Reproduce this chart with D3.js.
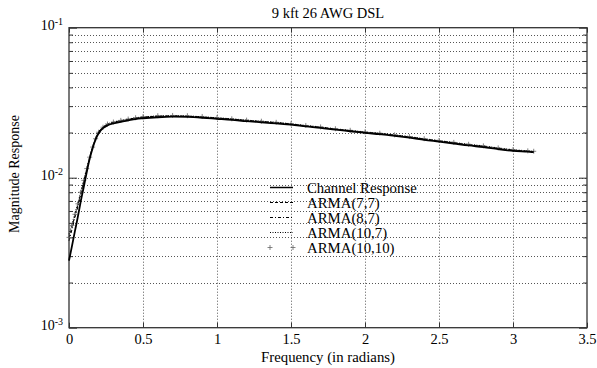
<!DOCTYPE html>
<html>
<head>
<meta charset='utf-8'>
<title>9 kft 26 AWG DSL</title>
<script src='https://cdn.jsdelivr.net/npm/d3@7/dist/d3.min.js'></script>
<style>
  body { margin: 0; background: #fff; }
  text { font-family: 'Liberation Serif', 'Times New Roman', serif; fill: #000; }
</style>
</head>
<body>
<svg width='597' height='368'></svg>
<script>
// frequency samples (radians)
const freq = [0, 0.02, 0.04, 0.06, 0.08, 0.10, 0.12, 0.14, 0.16, 0.18, 0.20, 0.23, 0.26, 0.30, 0.35,
  0.40, 0.45, 0.5, 0.6, 0.7, 0.8, 0.9, 1.0, 1.1, 1.2, 1.3, 1.4, 1.5, 1.6, 1.7, 1.8, 1.9, 2.0,
  2.1, 2.2, 2.3, 2.4, 2.5, 2.6, 2.7, 2.8, 2.9, 3.0, 3.1, 3.14]

const channel = [0.0028, 0.0035, 0.0044, 0.0055, 0.0070, 0.0087, 0.0109, 0.0134, 0.0158, 0.0180, 0.0198, 0.0214, 0.0223, 0.0230, 0.0236,
  0.0241, 0.0246, 0.0249, 0.0253, 0.0255, 0.0254, 0.0251, 0.0247, 0.0243, 0.0238, 0.0234, 0.0230, 0.0226, 0.0220, 0.0215, 0.0209, 0.0204, 0.0199,
  0.0195, 0.0190, 0.0185, 0.0179, 0.0174, 0.0169, 0.0164, 0.0160, 0.0155, 0.0151, 0.0149, 0.0148]

const arma77 = [0.0040, 0.0047, 0.0056, 0.0066, 0.0079, 0.0095, 0.0114, 0.0137, 0.0160, 0.0182, 0.0201, 0.0217, 0.0227, 0.0234, 0.0240,
  0.0245, 0.0250, 0.0253, 0.0257, 0.0258, 0.0257, 0.0254, 0.0250, 0.0246, 0.0241, 0.0237, 0.0233, 0.0228, 0.0222, 0.0217, 0.0211, 0.0206, 0.0201,
  0.0197, 0.0192, 0.0187, 0.0181, 0.0176, 0.0171, 0.0166, 0.0162, 0.0157, 0.0153, 0.0150, 0.0149]

const arma87 = [0.0038, 0.0045, 0.0054, 0.0064, 0.0077, 0.0093, 0.0112, 0.0136, 0.0159, 0.0181, 0.0200, 0.0216, 0.0226, 0.0233, 0.0239,
  0.0244, 0.0249, 0.0252, 0.0256, 0.0257, 0.0256, 0.0253, 0.0249, 0.0245, 0.0240, 0.0236, 0.0232, 0.0227, 0.0221, 0.0216, 0.0210, 0.0205, 0.0200,
  0.0196, 0.0191, 0.0186, 0.0180, 0.0175, 0.0170, 0.0165, 0.0161, 0.0156, 0.0152, 0.0150, 0.0149]

const arma107 = [0.0042, 0.0049, 0.0058, 0.0068, 0.0081, 0.0097, 0.0116, 0.0138, 0.0161, 0.0183, 0.0202, 0.0218, 0.0228, 0.0235, 0.0241,
  0.0246, 0.0251, 0.0254, 0.0258, 0.0259, 0.0258, 0.0255, 0.0251, 0.0247, 0.0242, 0.0238, 0.0234, 0.0229, 0.0223, 0.0218, 0.0212, 0.0207, 0.0202,
  0.0198, 0.0193, 0.0188, 0.0182, 0.0177, 0.0172, 0.0167, 0.0163, 0.0158, 0.0154, 0.0151, 0.0150]

const arma1010 = [0.0040, 0.0048, 0.0057, 0.0067, 0.0080, 0.0096, 0.0115, 0.0137, 0.0160, 0.0182, 0.0201, 0.0217, 0.0228, 0.0235, 0.0241,
  0.0246, 0.0251, 0.0255, 0.0259, 0.0260, 0.0259, 0.0256, 0.0252, 0.0247, 0.0242, 0.0238, 0.0234, 0.0229, 0.0223, 0.0218, 0.0212, 0.0207, 0.0202,
  0.0198, 0.0193, 0.0188, 0.0182, 0.0177, 0.0172, 0.0167, 0.0163, 0.0158, 0.0154, 0.0151, 0.0150]

const seriesNames = ['Channel Response', 'ARMA(7,7)', 'ARMA(8,7)', 'ARMA(10,7)', 'ARMA(10,10)']
const xTicks = [0, 0.5, 1, 1.5, 2, 2.5, 3, 3.5]
const yMajor = [1e-3, 1e-2, 1e-1]
const yExp = ['-3', '-2', '-1']

const svg = d3.select('svg')
const plotBox = { left: 69, right: 587, top: 27.7, bottom: 327.7 }

const x = d3.scaleLinear([0, 3.5], [plotBox.left, plotBox.right])
const y = d3.scaleLog([1e-3, 1e-1], [plotBox.bottom, plotBox.top])

// minor log values for grid / ticks
const yMinor = []
;[1e-3, 1e-2].forEach(d => { for (let k = 2; k <= 9; k++) yMinor.push(d * k) })

// grid (dotted)
const grid = svg.append('g').attr('stroke', '#555').attr('stroke-width', 1).attr('stroke-dasharray', '1,2')
grid.selectAll('.gy').data(yMinor.concat([1e-2])).join('line')
  .attr('x1', plotBox.left).attr('x2', plotBox.right)
  .attr('y1', d => Math.round(y(d)) + 0.5).attr('y2', d => Math.round(y(d)) + 0.5)
grid.selectAll('.gx').data(xTicks.slice(1, -1)).join('line')
  .attr('y1', plotBox.top).attr('y2', plotBox.bottom)
  .attr('x1', d => Math.round(x(d)) + 0.5).attr('x2', d => Math.round(x(d)) + 0.5)

// axes: inward ticks like gnuplot
const gx = svg.append('g').attr('transform', `translate(0,${plotBox.bottom})`)
  .call(d3.axisBottom(x).tickValues(xTicks).tickSize(-5).tickPadding(6).tickFormat(d3.format('')))
const gxTop = svg.append('g').attr('transform', `translate(0,${plotBox.top})`)
  .call(d3.axisTop(x).tickValues(xTicks).tickSize(-5).tickFormat(''))
const gy = svg.append('g').attr('transform', `translate(${plotBox.left},0)`)
  .call(d3.axisLeft(y).tickValues(yMajor).tickSize(-8).tickPadding(6).tickFormat(''))
const gyR = svg.append('g').attr('transform', `translate(${plotBox.right},0)`)
  .call(d3.axisRight(y).tickValues(yMajor).tickSize(-8).tickFormat(''))
const gyMin = svg.append('g').attr('transform', `translate(${plotBox.left},0)`)
  .call(d3.axisLeft(y).tickValues(yMinor).tickSize(-4).tickFormat(''))
const gyMinR = svg.append('g').attr('transform', `translate(${plotBox.right},0)`)
  .call(d3.axisRight(y).tickValues(yMinor).tickSize(-4).tickFormat(''))

;[gx, gxTop, gy, gyR, gyMin, gyMinR].forEach(g => {
  g.select('.domain').remove()
  g.selectAll('line').attr('stroke', '#333')
})
gx.selectAll('text').attr('font-size', '14.5px').attr('font-family', 'Liberation Serif').attr('fill', '#000')

// y labels with superscripts
gy.selectAll('.tick text').each(function (d, i) {
  const t = d3.select(this).attr('font-size', '14px').attr('font-family', 'Liberation Serif').attr('fill', '#000').attr('dy', '0.1em')
  t.append('tspan').text('10')
  t.append('tspan').attr('font-size', '10px').attr('dy', '-0.45em').text(yExp[i])
})

// frame
svg.append('rect').attr('x', plotBox.left).attr('y', plotBox.top)
  .attr('width', plotBox.right - plotBox.left).attr('height', plotBox.bottom - plotBox.top)
  .attr('fill', 'none').attr('stroke', '#333').attr('stroke-width', 1.3)

// curves
const line = d3.line().x((d, i) => x(freq[i])).y(d => y(d)).curve(d3.curveMonotoneX)
const plot = svg.append('g')
plot.append('path').datum(arma107).attr('d', line).attr('fill', 'none')
  .attr('stroke', '#000').attr('stroke-width', 1).attr('stroke-dasharray', '1,1.5')
plot.append('path').datum(arma87).attr('d', line).attr('fill', 'none')
  .attr('stroke', '#000').attr('stroke-width', 1).attr('stroke-dasharray', '3,2,1,2')
plot.append('path').datum(arma77).attr('d', line).attr('fill', 'none')
  .attr('stroke', '#000').attr('stroke-width', 1).attr('stroke-dasharray', '3,2')
plot.selectAll('.plus').data(arma1010).join('path')
  .attr('d', (d, i) => `M${x(freq[i]) - 2.5},${y(d)}h5M${x(freq[i])},${y(d) - 2.5}v5`)
  .attr('stroke', '#666').attr('stroke-width', 0.8)
plot.append('path').datum(channel).attr('d', line).attr('fill', 'none')
  .attr('stroke', '#000').attr('stroke-width', 1.8)

// legend
const legY = [187.5, 202.5, 217.5, 232.5, 247.5]
const lx1 = 270, lx2 = 293, tx = 307
const legend = svg.append('g')
seriesNames.forEach((name, i) => {
  const yy = legY[i]
  if (i === 4) {
    ;[lx1, lx2].forEach(px => legend.append('path')
      .attr('d', `M${px - 2.5},${yy}h5M${px},${yy - 2.5}v5`).attr('stroke', '#666').attr('stroke-width', 0.8))
  } else {
    const dash = [null, '3,2', '3,2,1,2', '1,1.5'][i]
    legend.append('line').attr('x1', lx1).attr('x2', lx2).attr('y1', yy).attr('y2', yy)
      .attr('stroke', '#000').attr('stroke-width', i === 0 ? 1.5 : 1).attr('stroke-dasharray', dash)
  }
  legend.append('text').attr('x', tx).attr('y', yy).attr('dy', '0.35em').attr('font-size', '14.8px').text(name)
})

// titles
const midX = (plotBox.left + plotBox.right) / 2
svg.append('text').attr('x', midX).attr('y', 18).attr('text-anchor', 'middle').attr('font-size', '14.5px').text('9 kft 26 AWG DSL')
svg.append('text').attr('x', midX).attr('y', 362).attr('text-anchor', 'middle').attr('font-size', '14.8px').text('Frequency (in radians)')
svg.append('text').attr('transform', 'translate(19,174) rotate(-90)').attr('text-anchor', 'middle').attr('font-size', '14px').text('Magnitude Response')
</script>
</body>
</html>
